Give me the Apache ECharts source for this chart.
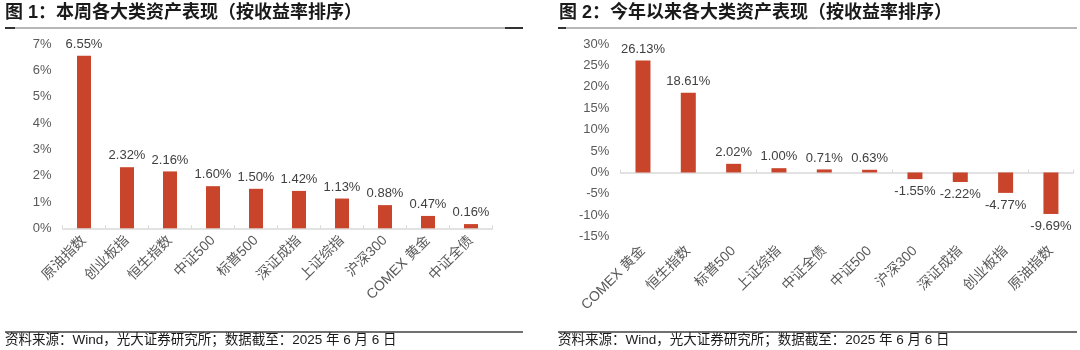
<!DOCTYPE html>
<html><head><meta charset="utf-8">
<script src="https://cdn.jsdelivr.net/npm/echarts@6/dist/echarts.min.js"></script>
<style>html,body{margin:0;padding:0;background:#fff}#c{width:1080px;height:350px}</style>
</head><body><div id="c"></div>
<script>
const weekCats = ['原油指数','创业板指','恒生指数','中证500','标普500','深证成指','上证综指','沪深300','COMEX 黄金','中证全债'];
const weekVals = [6.55,2.32,2.16,1.60,1.50,1.42,1.13,0.88,0.47,0.16];
const ytdCats = ['COMEX 黄金','恒生指数','标普500','上证综指','中证全债','中证500','沪深300','深证成指','创业板指','原油指数'];
const ytdVals = [26.13,18.61,2.02,1.00,0.71,0.63,-1.55,-2.22,-4.77,-9.69];
const title1 = '图 1：本周各大类资产表现（按收益率排序）';
const title2 = '图 2：今年以来各大类资产表现（按收益率排序）';
const source = '资料来源：Wind，光大证券研究所；数据截至：2025 年 6 月 6 日';

const FONT = '"Liberation Sans", Arial, "Noto Sans CJK SC", sans-serif';
const BAR = '#C8442A';
const fmt = v => (typeof v === 'object' ? v.value : v).toFixed(2) + '%';

function toItems(vals){
  return vals.map(v => ({
    value: v,
    label: v < 0 ? {position: 'bottom', distance: 6} : {position: 'top', distance: 5}
  }));
}

const catLabel = {rotate: 45, fontSize: 14, color: '#595959', fontFamily: FONT, interval: 0};
const yLabel = {fontSize: 13, color: '#595959', fontFamily: FONT, formatter: '{value}%', margin: 11};

const chart = echarts.init(document.getElementById('c'), null, {renderer: 'canvas'});
chart.setOption({
  animation: false,
  textStyle: {fontFamily: FONT},
  grid: [
    {left: 62.5, right: 587.5, top: 44, bottom: 121.7},
    {left: 620.3, right: 6.4, top: 44, bottom: 113.3}
  ],
  xAxis: [
    {gridIndex: 0, type: 'category', data: weekCats, position: 'bottom',
     axisLine: {lineStyle: {color: '#D9D9D9', width: 1.5}},
     axisTick: {show: true, inside: true, length: 3, lineStyle: {color: '#D9D9D9'}},
     axisLabel: Object.assign({margin: 10}, catLabel)},
    {gridIndex: 1, type: 'category', data: ytdCats, position: 'bottom',
     axisLine: {show: false, onZero: false}, axisTick: {show: false},
     axisLabel: Object.assign({margin: 12}, catLabel)},
    {gridIndex: 1, type: 'category', data: ytdCats, position: 'top',
     axisLine: {show: true, onZero: true, lineStyle: {color: '#D9D9D9', width: 1.5}},
     axisTick: {show: true, inside: false, length: 3, lineStyle: {color: '#D9D9D9'}},
     axisLabel: {show: false}}
  ],
  yAxis: [
    {gridIndex: 0, type: 'value', min: 0, max: 7, interval: 1,
     axisLine: {show: false}, axisTick: {show: false}, splitLine: {show: false}, axisLabel: yLabel},
    {gridIndex: 1, type: 'value', min: -15, max: 30, interval: 5,
     axisLine: {show: false}, axisTick: {show: false}, splitLine: {show: false}, axisLabel: yLabel}
  ],
  series: [
    {type: 'bar', xAxisIndex: 0, yAxisIndex: 0, data: toItems(weekVals), barWidth: 14,
     itemStyle: {color: BAR},
     label: {show: true, formatter: p => fmt(p.value), fontSize: 13, color: '#404040', fontFamily: FONT}},
    {type: 'bar', xAxisIndex: 1, yAxisIndex: 1, data: toItems(ytdVals), barWidth: 15,
     itemStyle: {color: BAR},
     label: {show: true, formatter: p => fmt(p.value), fontSize: 13, color: '#404040', fontFamily: FONT}}
  ],
  graphic: [
    {type: 'text', left: 5, top: 4, style: {text: title1, font: 'bold 18px ' + FONT, fill: '#1a1a1a'}},
    {type: 'text', left: 559, top: 4, style: {text: title2, font: 'bold 18px ' + FONT, fill: '#1a1a1a'}},
    {type: 'line', shape: {x1: 5, y1: 28, x2: 523, y2: 28}, style: {stroke: '#707070', lineWidth: 1}},
    {type: 'line', shape: {x1: 5, y1: 28, x2: 15, y2: 28}, style: {stroke: '#333', lineWidth: 2}},
    {type: 'line', shape: {x1: 505, y1: 28, x2: 523, y2: 28}, style: {stroke: '#333', lineWidth: 2}},
    {type: 'line', shape: {x1: 558, y1: 28, x2: 1077, y2: 28}, style: {stroke: '#707070', lineWidth: 1}},
    {type: 'line', shape: {x1: 558, y1: 28, x2: 566, y2: 28}, style: {stroke: '#333', lineWidth: 2}},
    {type: 'line', shape: {x1: 5, y1: 332, x2: 523, y2: 332}, style: {stroke: '#404040', lineWidth: 1.5}},
    {type: 'line', shape: {x1: 558, y1: 332, x2: 1077, y2: 332}, style: {stroke: '#404040', lineWidth: 1.5}},
    {type: 'text', left: 5, top: 334, style: {text: source, font: '13.5px ' + FONT, fill: '#1a1a1a'}},
    {type: 'text', left: 558, top: 334, style: {text: source, font: '13.5px ' + FONT, fill: '#1a1a1a'}}
  ]
});
</script></body></html>
